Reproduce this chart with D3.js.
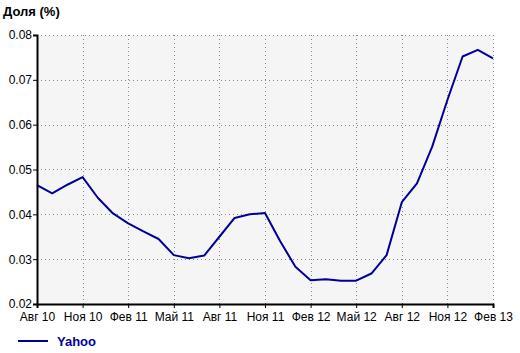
<!DOCTYPE html>
<html>
<head>
<meta charset="utf-8">
<script src="https://cdn.jsdelivr.net/npm/d3@7"></script>
<style>
  body { margin: 0; background: #fff; }
  text { font-family: Arial, "Liberation Sans", sans-serif; }
</style>
</head>
<body>
<div id="chart"></div>
<script>
// months from Aug 2010 to Feb 2013
var months = ["2010-08","2010-09","2010-10","2010-11","2010-12",
  "2011-01","2011-02","2011-03","2011-04","2011-05","2011-06","2011-07","2011-08","2011-09","2011-10","2011-11","2011-12",
  "2012-01","2012-02","2012-03","2012-04","2012-05","2012-06","2012-07","2012-08","2012-09","2012-10","2012-11","2012-12",
  "2013-01","2013-02"];

var yahoo = [0.0465, 0.0447, 0.0466, 0.0483, 0.0437,
  0.0402, 0.0380, 0.0362, 0.0345, 0.0309, 0.0302, 0.0308, 0.0350, 0.0392, 0.0400, 0.0403, 0.0340,
  0.0283, 0.0253, 0.0255, 0.0252, 0.0252, 0.0268, 0.0309, 0.0427, 0.0469, 0.0551, 0.0655, 0.0752,
  0.0767, 0.0748];

var tickMonths = ["2010-08","2010-11","2011-02","2011-05","2011-08","2011-11","2012-02","2012-05","2012-08","2012-11","2013-02"];
var tickLabels = ["Авг 10","Ноя 10","Фев 11","Май 11","Авг 11","Ноя 11","Фев 12","Май 12","Авг 12","Ноя 12","Фев 13"];
var yTicks = [0.02, 0.03, 0.04, 0.05, 0.06, 0.07, 0.08];

var W = 520, H = 353;
var margin = {top: 35, right: 27, bottom: 49, left: 37},
  width = W - margin.left - margin.right,
  height = H - margin.top - margin.bottom;

var svg = d3.select("#chart").append("svg")
    .attr("width", W)
    .attr("height", H);

var g = svg.append("g")
    .attr("transform", "translate(" + margin.left + "," + margin.top + ")");

var x = d3.scalePoint()
    .domain(months)
    .range([0, width]);

var y = d3.scaleLinear()
    .domain([0.02, 0.08])
    .range([height, 0]);

// plot background
g.append("rect")
    .attr("width", width)
    .attr("height", height)
    .attr("fill", "#f5f5f5");

// grid
g.append("g").selectAll("line")
    .data(yTicks.slice(1))
    .enter().append("line")
      .attr("x1", 0).attr("x2", width)
      .attr("y1", function(d) { return Math.round(y(d)) + 0.5; })
      .attr("y2", function(d) { return Math.round(y(d)) + 0.5; })
      .attr("stroke", "#888")
      .attr("stroke-dasharray", "1,3");

g.append("g").selectAll("line")
    .data(tickMonths.slice(1))
    .enter().append("line")
      .attr("x1", function(d) { return Math.round(x(d)) + 0.5; })
      .attr("x2", function(d) { return Math.round(x(d)) + 0.5; })
      .attr("y1", 0).attr("y2", height)
      .attr("stroke", "#888")
      .attr("stroke-dasharray", "1,3");

// line
var line = d3.line()
    .x(function(d, i) { return x(months[i]); })
    .y(function(d) { return y(d); });

g.append("path")
    .datum(yahoo)
    .attr("fill", "none")
    .attr("stroke", "#000099")
    .attr("stroke-width", 2)
    .attr("stroke-linejoin", "round")
    .attr("d", line);

// axes
var xAxis = g.append("g")
    .attr("transform", "translate(0," + height + ")")
    .call(d3.axisBottom(x)
      .tickValues(tickMonths)
      .tickFormat(function(d, i) { return tickLabels[i]; })
      .tickSize(4)
      .tickPadding(4));

var yAxis = g.append("g")
    .call(d3.axisLeft(y)
      .tickValues(yTicks)
      .tickFormat(d3.format(".2f"))
      .tickSize(4)
      .tickPadding(1));

[xAxis, yAxis].forEach(function(a) {
  a.select(".domain").attr("stroke", "#000").attr("stroke-width", 2);
  a.selectAll(".tick line").attr("stroke", "#000").attr("stroke-width", 1);
  a.selectAll("text").attr("fill", "#000").style("font-size", "12px")
    .style("font-family", "Arial, 'Liberation Sans', sans-serif");
});

// title
svg.append("text")
    .attr("x", 3)
    .attr("y", 16)
    .style("font-size", "13px")
    .style("font-weight", "bold")
    .text("Доля (%)");

// legend
svg.append("line")
    .attr("x1", 18).attr("x2", 48)
    .attr("y1", 341).attr("y2", 341)
    .attr("stroke", "#000099")
    .attr("stroke-width", 2);

svg.append("text")
    .attr("x", 57)
    .attr("y", 346)
    .attr("fill", "#000099")
    .style("font-size", "13px")
    .style("font-weight", "bold")
    .text("Yahoo");
</script>
</body>
</html>
